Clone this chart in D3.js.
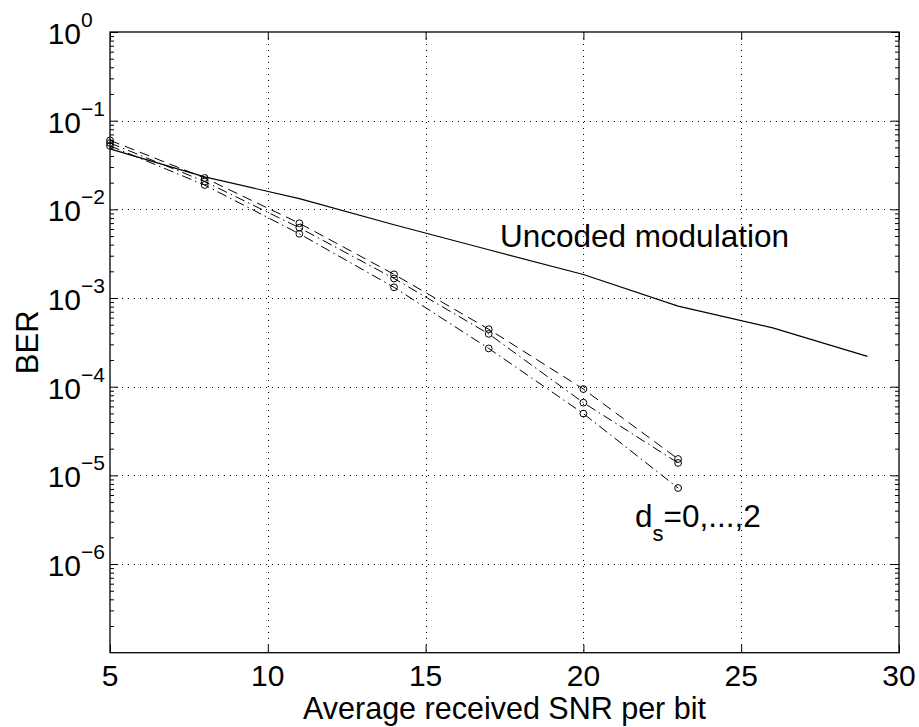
<!DOCTYPE html>
<html>
<head>
<meta charset="utf-8">
<script src="https://cdn.jsdelivr.net/npm/d3@7"></script>
<style>
  body { margin: 0; background: #fff; }
  svg { display: block; font-family: "Liberation Sans", Arial, Helvetica, sans-serif; }
</style>
</head>
<body>
<script>
var W = 919, H = 727;
var mLeft = 110, mRight = 899, mTop = 32, mBottom = 652.7;

// SNR per bit (dB)
var snrUncoded = [5, 8, 11, 14, 17, 20, 23, 26, 29];
var berUncoded = [0.048, 0.0232, 0.0132, 0.0067, 0.0035, 0.00184, 0.00081, 0.00046, 0.00022];

var snrCoded = [5, 8, 11, 14, 17, 20, 23];
var berDs0 = [0.060, 0.0226, 0.00697, 0.00185, 0.000445, 0.000094, 0.0000153];
var berDs1 = [0.056, 0.0206, 0.0062, 0.00166, 0.000394, 0.000066, 0.0000138];
var berDs2 = [0.052, 0.0188, 0.0053, 0.00132, 0.00027, 0.0000497, 0.0000072];
var codedStyles = ["10,6", "10,4,1.5,4", "10,4,1.5,4"];

var xTicks = [5, 10, 15, 20, 25, 30];
var yExps = [0, -1, -2, -3, -4, -5, -6];

const x = d3.scaleLinear().domain([5, 30]).range([mLeft, mRight]);
const y = d3.scaleLog().domain([1e-7, 1]).range([mBottom, mTop]);

const svg = d3.select("body").append("svg")
  .attr("width", W)
  .attr("height", H);

svg.append("rect").attr("width", W).attr("height", H).attr("fill", "#fff");

/* 网格 */
var majorY = yExps.map(function(e) { return Math.pow(10, e); });
var minorY = [];
for (var e = -7; e < 0; e++) {
  for (var k = 2; k <= 9; k++) minorY.push(k * Math.pow(10, e));
}

const grid = svg.append("g").attr("class", "grid")
  .attr("stroke", "#000")
  .attr("stroke-width", 1)
  .attr("stroke-dasharray", "1,5");

grid.selectAll(".gx")
  .data(xTicks.slice(1, -1))
  .enter().append("line")
  .attr("x1", d => Math.round(x(d)) + 0.5)
  .attr("x2", d => Math.round(x(d)) + 0.5)
  .attr("y1", mTop)
  .attr("y2", mBottom);

grid.selectAll(".gy")
  .data(majorY.slice(1))
  .enter().append("line")
  .attr("x1", mLeft)
  .attr("x2", mRight)
  .attr("y1", d => Math.round(y(d)) + 0.5)
  .attr("y2", d => Math.round(y(d)) + 0.5);

/* 坐标轴刻度 */
function axisG(axis, tx, ty) {
  const g = svg.append("g")
    .attr("transform", "translate(" + tx + "," + ty + ")")
    .call(axis);
  g.selectAll("text").remove();
  g.select(".domain").remove();
  g.selectAll("line").attr("stroke", "#000").attr("stroke-width", 1);
  return g;
}
axisG(d3.axisBottom(x).tickValues(xTicks).tickSize(-8), 0, mBottom);
axisG(d3.axisTop(x).tickValues(xTicks).tickSize(-8), 0, mTop);
axisG(d3.axisLeft(y).tickValues(majorY).tickSize(-8), mLeft, 0);
axisG(d3.axisRight(y).tickValues(majorY).tickSize(-8), mRight, 0);
axisG(d3.axisLeft(y).tickValues(minorY).tickSize(-4), mLeft, 0);
axisG(d3.axisRight(y).tickValues(minorY).tickSize(-4), mRight, 0);

svg.append("rect")
  .attr("x", mLeft).attr("y", mTop)
  .attr("width", mRight - mLeft).attr("height", mBottom - mTop)
  .attr("fill", "none")
  .attr("stroke", "#000")
  .attr("stroke-width", 1.3);

/* 刻度标签 */
svg.selectAll(".xl")
  .data(xTicks)
  .enter().append("text")
  .attr("x", d => x(d))
  .attr("y", 686)
  .attr("text-anchor", "middle")
  .attr("font-size", 30)
  .text(d => d);

svg.selectAll(".yl")
  .data(yExps)
  .enter().append("text")
  .attr("x", 81)
  .attr("y", d => y(Math.pow(10, d)) + 12)
  .attr("text-anchor", "end")
  .attr("font-size", 30)
  .text("10");

svg.selectAll(".ye")
  .data(yExps)
  .enter().append("text")
  .attr("x", 81)
  .attr("y", d => y(Math.pow(10, d)) - 5)
  .attr("text-anchor", "start")
  .attr("font-size", 21)
  .text(d => d === 0 ? "0" : "\u2212" + (-d));

/* 轴标题 */
svg.append("text")
  .attr("x", (mLeft + mRight) / 2)
  .attr("y", 719)
  .attr("text-anchor", "middle")
  .attr("font-size", 30.5)
  .text("Average received SNR per bit");

svg.append("text")
  .attr("transform", "translate(38," + (mTop + mBottom) / 2 + ") rotate(-90)")
  .attr("text-anchor", "middle")
  .attr("font-size", 31)
  .text("BER");

/* 曲线 */
const line = d3.line()
  .x(d => x(d[0]))
  .y(d => y(d[1]));

svg.append("path")
  .datum(d3.zip(snrUncoded, berUncoded))
  .attr("d", line)
  .attr("fill", "none")
  .attr("stroke", "#000")
  .attr("stroke-width", 1.2);

[berDs0, berDs1, berDs2].forEach(function(ber, i) {
  var pts = d3.zip(snrCoded, ber);
  svg.append("path")
    .datum(pts)
    .attr("d", line)
    .attr("fill", "none")
    .attr("stroke", "#000")
    .attr("stroke-width", 1)
    .attr("stroke-dasharray", codedStyles[i]);
  svg.append("g").selectAll("circle")
    .data(pts)
    .enter().append("circle")
    .attr("cx", d => x(d[0]))
    .attr("cy", d => y(d[1]))
    .attr("r", 3.4)
    .attr("fill", "none")
    .attr("stroke", "#000")
    .attr("stroke-width", 1);
});

/* 标注 */
svg.append("text")
  .attr("x", 500)
  .attr("y", 247)
  .attr("font-size", 31.5)
  .text("Uncoded modulation");

const ds = svg.append("text")
  .attr("x", 635)
  .attr("y", 527)
  .attr("font-size", 31.5);
ds.append("tspan").text("d");
ds.append("tspan").attr("font-size", 22).attr("dy", 14).text("s");
ds.append("tspan").attr("dy", -14).text("=0,...,2");
</script>
</body>
</html>
